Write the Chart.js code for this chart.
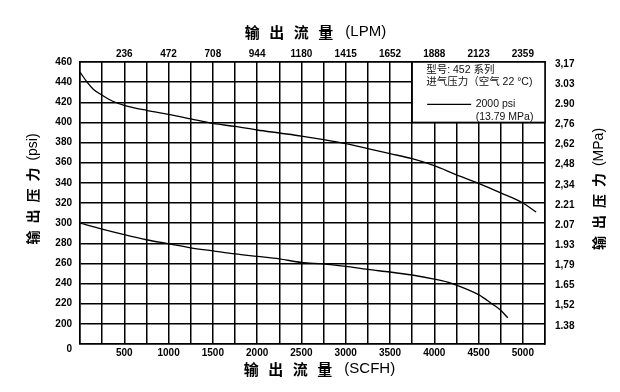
<!DOCTYPE html>
<html>
<head>
<meta charset="utf-8">
<script src="https://cdn.jsdelivr.net/npm/chart.js@4/dist/chart.umd.min.js"></script>
<style>
  html, body { margin: 0; padding: 0; background: #fff; }
  #wrap { width: 620px; height: 392px; }
</style>
</head>
<body>
<div id="wrap"><canvas id="flowChart" width="620" height="392"></canvas></div>
<script>
// upper curve (2000 psi inlet)
const scfhUpper = [0, 80, 150, 250, 370, 500, 750, 1000, 1250, 1500, 1750, 2000, 2250, 2500, 2750, 3000, 3250, 3500, 3750, 4000, 4250, 4500, 4750, 5000, 5150];
const psiUpper  = [450, 440, 433, 427, 421, 417, 412, 408, 403.5, 399, 396, 392.5, 389.5, 386.5, 383, 379, 374, 369, 364, 357, 348, 339.5, 330, 320, 311];

// lower curve
const scfhLower = [0, 250, 500, 750, 1000, 1250, 1500, 1750, 2000, 2250, 2500, 2750, 3000, 3250, 3500, 3750, 4000, 4150, 4250, 4500, 4650, 4750, 4830];
const psiLower  = [300, 294, 288.5, 283.5, 279.5, 275.5, 272.5, 269.5, 267, 264.5, 261, 259.5, 257, 254, 251.5, 248.5, 244.5, 241.5, 238.5, 229, 220, 213.5, 206];

// axis labels
const scfhTicks = [500, 1000, 1500, 2000, 2500, 3000, 3500, 4000, 4500, 5000];
const lpmLabels = ['236', '472', '708', '944', '1180', '1415', '1652', '1888', '2123', '2359'];
const psiTicks  = [460, 440, 420, 400, 380, 360, 340, 320, 300, 280, 260, 240, 220, 200];
const mpaLabels = ['3,17', '3.03', '2.90', '2,76', '2,62', '2,48', '2,34', '2.21', '2.07', '1.93', '1,79', '1.65', '1,52', '1.38'];

const tickFont = { family: "'Liberation Sans', Arial, sans-serif", size: 10, weight: 'bold' };
const cjk = "'Noto Sans CJK SC'";
const latin = "'Liberation Sans', Arial";

function toPoints(xs, ys) {
    return xs.map((x, i) => ({ x: x, y: ys[i] }));
}

// draws pieces of text side by side, centred on (cx, cy), optionally rotated
function drawParts(ctx, parts, cx, cy, rotate) {
    ctx.save();
    ctx.translate(cx, cy);
    if (rotate) ctx.rotate(-Math.PI / 2);
    ctx.textBaseline = 'middle';
    ctx.textAlign = 'left';
    ctx.fillStyle = '#000';
    let total = 0;
    parts.forEach(p => {
        ctx.font = p.font;
        p.w = ctx.measureText(p.text).width;
        total += p.w + (p.gap || 0);
    });
    let x = -total / 2;
    parts.forEach(p => {
        x += p.gap || 0;
        ctx.font = p.font;
        ctx.fillText(p.text, x, 0);
        x += p.w;
    });
    ctx.restore();
}

function titleParts(chars, tail, size, gap, tailGap) {
    const parts = chars.map((c, i) => ({ text: c, font: `bold ${size}px ${cjk}`, gap: i ? gap : 0 }));
    parts.push({ text: tail, font: `${size}px ${latin}`, gap: tailGap });
    return parts;
}

const decorPlugin = {
    id: 'decor',
    beforeDatasetsDraw(chart) {
        const ctx = chart.ctx;
        const xs = chart.scales.x, ys = chart.scales.y;
        const left = xs.getPixelForValue(3750), right = xs.getPixelForValue(5250);
        const top = ys.getPixelForValue(460), bottom = ys.getPixelForValue(400);
        ctx.save();
        ctx.fillStyle = '#fff';
        ctx.fillRect(left, top, right - left, bottom - top);
        ctx.strokeStyle = '#000';
        ctx.lineWidth = 1.5;
        ctx.strokeRect(left, top, right - left, bottom - top);

        ctx.fillStyle = '#111';
        ctx.textBaseline = 'middle';
        ctx.textAlign = 'left';
        ctx.font = `10.5px ${latin}, ${cjk}`;
        ctx.fillText('型号: 452 系列', left + 14, top + 8);
        ctx.fillText('进气压力（空气 22 °C)', left + 14, top + 19.7);
        ctx.fillText('2000 psi', left + 63.5, top + 42.3);
        ctx.fillText('(13.79 MPa)', left + 63.5, top + 54.7);

        ctx.strokeStyle = '#000';
        ctx.lineWidth = 1.2;
        ctx.beginPath();
        ctx.moveTo(left + 15, top + 42.3);
        ctx.lineTo(left + 59, top + 42.3);
        ctx.stroke();
        ctx.restore();
    },
    afterDraw(chart) {
        const ctx = chart.ctx;
        const ca = chart.chartArea;
        // the bottom left "0" sits a little under the baseline
        ctx.save();
        ctx.font = `bold 10px ${latin}`;
        ctx.fillStyle = '#000';
        ctx.textAlign = 'right';
        ctx.textBaseline = 'middle';
        ctx.fillText('0', ca.left - 8, ca.bottom + 5);
        ctx.restore();

        drawParts(ctx, titleParts(['输', '出', '流', '量'], '(LPM)', 15, 9.5, 12), 315.5, 32, false);
        drawParts(ctx, titleParts(['输', '出', '流', '量'], '(SCFH)', 15, 9.5, 12), 319.5, 369, false);
        drawParts(ctx, titleParts(['输', '出', '压', '力'], '(psi)', 14, 7, 7), 33, 189, true);
        drawParts(ctx, titleParts(['输', '出', '压', '力'], '(MPa)', 14, 7, 7), 599, 189, true);
    }
};

const lineStyle = {
    borderColor: '#000',
    borderWidth: 1.3,
    pointRadius: 0,
    fill: false,
    cubicInterpolationMode: 'monotone'
};

new Chart(document.getElementById('flowChart'), {
    type: 'line',
    data: {
        datasets: [
            Object.assign({ label: '2000 psi', data: toPoints(scfhUpper, psiUpper) }, lineStyle),
            Object.assign({ label: 'lower', data: toPoints(scfhLower, psiLower) }, lineStyle)
        ]
    },
    options: {
        responsive: false,
        animation: false,
        layout: { padding: 0 },
        plugins: { legend: { display: false }, tooltip: { enabled: false } },
        scales: {
            x: {
                type: 'linear', position: 'bottom', min: 0, max: 5250,
                ticks: {
                    stepSize: 250, autoSkip: false, maxRotation: 0, padding: 3,
                    color: '#000', font: tickFont,
                    callback: v => scfhTicks.includes(v) ? String(v) : ''
                },
                grid: { color: '#000', lineWidth: 1.5, drawTicks: false },
                border: { color: '#000', width: 1.5 },
                afterFit: s => { s.height = 48; }
            },
            x2: {
                type: 'linear', position: 'top', min: 0, max: 5250,
                ticks: {
                    stepSize: 250, autoSkip: false, maxRotation: 0, padding: 2,
                    color: '#000', font: tickFont,
                    callback: v => {
                        const i = scfhTicks.indexOf(v);
                        return i >= 0 ? lpmLabels[i] : '';
                    }
                },
                grid: { display: false, drawTicks: false },
                border: { color: '#000', width: 1.5 },
                afterFit: s => { s.height = 62; }
            },
            y: {
                position: 'left', min: 180, max: 460,
                ticks: {
                    stepSize: 20, autoSkip: false, padding: 8,
                    color: '#000', font: tickFont,
                    callback: v => psiTicks.includes(v) ? String(v) : ''
                },
                grid: { color: '#000', lineWidth: 1.5, drawTicks: false },
                border: { color: '#000', width: 1.5 },
                afterFit: s => { s.width = 80; }
            },
            y2: {
                position: 'right', min: 180, max: 460,
                ticks: {
                    stepSize: 20, autoSkip: false, padding: 10, labelOffset: 2,
                    color: '#000', font: tickFont,
                    callback: v => {
                        const i = psiTicks.indexOf(v);
                        return i >= 0 ? mpaLabels[i] : '';
                    }
                },
                grid: { drawOnChartArea: false, drawTicks: false },
                border: { color: '#000', width: 1.5 },
                afterFit: s => { s.width = 75; }
            }
        }
    },
    plugins: [decorPlugin]
});
</script>
</body>
</html>
